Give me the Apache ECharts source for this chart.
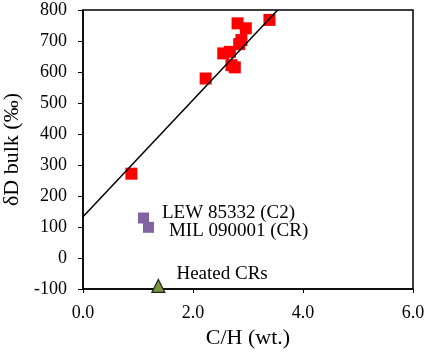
<!DOCTYPE html>
<html>
<head>
<meta charset="utf-8">
<script src="https://cdn.jsdelivr.net/npm/echarts@6/dist/echarts.min.js"></script>
<style>
html,body{margin:0;padding:0;background:#fff;}
#main{width:429px;height:353px;}
</style>
</head>
<body>
<div id="main"></div>
<script>
// red squares (C/H, dD)
var redPts = [[0.88, 272], [2.23, 579], [2.55, 660], [2.67, 665], [2.7, 622], [2.76, 615],
    [2.81, 757], [2.96, 741], [2.88, 703], [2.84, 690], [3.39, 768]];
var purplePts = [[1.10, 129], [1.19, 99]];
var purpleNames = ['LEW 85332 (C2)', 'MIL 090001 (CR)'];
var heatedPts = [[1.37, -90]];
var fitLine = [[0, 133], [3.54, 800]];

var serif = 'Liberation Serif';
var chart = echarts.init(document.getElementById('main'));
chart.setOption({
    animation: false,
    grid: {left: 83, right: 16, top: 10, bottom: 64, outerBoundsMode: 'none',
        show: true, borderColor: '#000', borderWidth: 1.5},
    xAxis: {
        type: 'value', min: 0, max: 6, interval: 2,
        name: 'C/H (wt.)', nameLocation: 'middle', nameGap: 37,
        nameTextStyle: {fontFamily: serif, fontSize: 22, color: '#000'},
        axisLine: {onZero: false, lineStyle: {color: '#000', width: 1.5}},
        axisTick: {length: 4, lineStyle: {color: '#000'}},
        axisLabel: {fontFamily: serif, fontSize: 18, color: '#000', margin: 15,
            formatter: function(v){ return v.toFixed(1); }},
        splitLine: {show: false}
    },
    yAxis: {
        type: 'value', min: -100, max: 800, interval: 100,
        name: 'δD bulk (‰)', nameLocation: 'middle', nameGap: 55,
        nameTextStyle: {fontFamily: serif, fontSize: 22, color: '#000'},
        axisLine: {onZero: false, lineStyle: {color: '#000', width: 1.5}},
        axisTick: {length: 5, lineStyle: {color: '#000'}},
        axisLabel: {fontFamily: serif, fontSize: 18, color: '#000', margin: 16},
        splitLine: {show: false}
    },
    series: [
        {
            type: 'line', data: fitLine, symbol: 'none',
            lineStyle: {color: '#000', width: 1.5}
        },
        {
            type: 'scatter', data: redPts, symbol: 'rect', symbolSize: 12,
            itemStyle: {color: '#ff0000', opacity: 1}
        },
        {
            type: 'scatter', symbol: 'rect', symbolSize: 11,
            itemStyle: {color: '#8064a2', opacity: 1},
            data: purplePts.map(function(p, i){
                return {value: p, name: purpleNames[i]};
            }),
            label: {show: true, position: 'right', formatter: '{b}',
                fontFamily: serif, fontSize: 19, color: '#000'},
            labelLayout: function(params){
                return params.dataIndex === 0 ? {dx: 8, dy: -5} : {dx: 10, dy: 4};
            }
        },
        {
            type: 'scatter', data: heatedPts, symbol: 'triangle', symbolSize: 13,
            itemStyle: {color: '#77933c', borderColor: '#222', borderWidth: 1.2, opacity: 1},
            label: {show: true, position: 'right', formatter: 'Heated CRs',
                fontFamily: serif, fontSize: 19, color: '#000', offset: [6, -12]}
        }
    ]
});
</script>
</body>
</html>
